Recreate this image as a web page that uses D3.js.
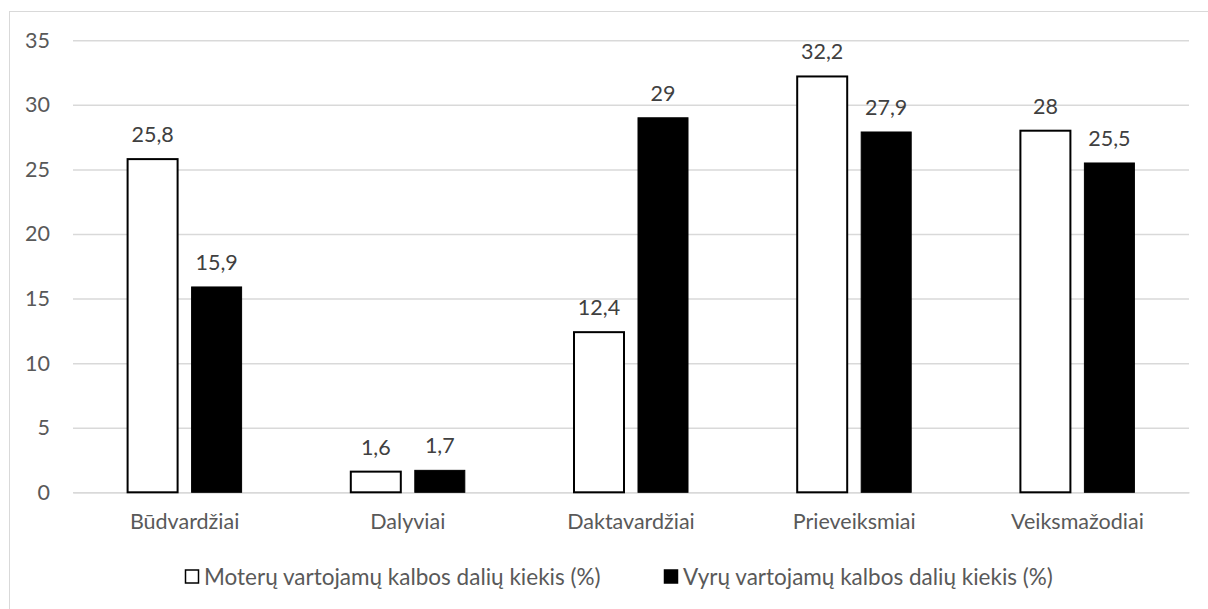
<!DOCTYPE html>
<html>
<head>
<meta charset="utf-8">
<script src="https://cdn.jsdelivr.net/npm/d3@7"></script>
<style>
  html, body { margin: 0; padding: 0; background: #fff; }
  svg { display: block; }
  text { font-family: Lato, "Noto Sans", sans-serif; }
</style>
</head>
<body>
<svg id="chart" width="1208" height="609"></svg>
<script>
// Part-of-speech usage shares by gender (%)
const categories = ["Būdvardžiai", "Dalyviai", "Daktavardžiai", "Prieveiksmiai", "Veiksmažodiai"];
const seriesNames = ["Moterų vartojamų kalbos dalių kiekis (%)", "Vyrų vartojamų kalbos dalių kiekis (%)"];
const womenValues = [25.8, 1.6, 12.4, 32.2, 28];
const menValues = [15.9, 1.7, 29, 27.9, 25.5];
const yTicks = [0, 5, 10, 15, 20, 25, 30, 35];

const W = 1208, H = 609;
const margin = { left: 73, right: 19, top: 40.3, bottom: 116.7 };
const svg = d3.select("#chart");

// outer chart-area frame
svg.append("rect")
  .attr("x", 9.5).attr("y", 11.5)
  .attr("width", W + 20).attr("height", H + 20)
  .attr("fill", "none").attr("stroke", "#d9d9d9").attr("stroke-width", 1);

const x = d3.scaleBand()
  .domain(categories)
  .range([margin.left, W - margin.right])
  .paddingInner(0).paddingOuter(0);

const y = d3.scaleLinear()
  .domain([0, 35])
  .range([H - margin.bottom, margin.top]);

const barW = 50, barGap = 14;
const sub = d3.scaleOrdinal()
  .domain([0, 1])
  .range([-(barGap / 2 + barW), barGap / 2]);

// gridlines
const yAxis = d3.axisLeft(y).tickValues(yTicks).tickSize(-(W - margin.left - margin.right)).tickPadding(23).tickFormat(d3.format("d"));
const gy = svg.append("g").attr("transform", `translate(${margin.left},0)`).call(yAxis);
gy.select(".domain").remove();
gy.selectAll(".tick line").attr("stroke", "#d9d9d9").attr("stroke-width", 1.5);
gy.selectAll(".tick text")
  .attr("fill", "#595959")
  .style("font-size", "21.5px");

// x axis labels
const xAxis = d3.axisBottom(x).tickSize(0).tickPadding(21);
const gx = svg.append("g").attr("transform", `translate(0,${y(0)})`).call(xAxis);
gx.select(".domain").attr("stroke", "#d9d9d9").attr("stroke-width", 1.5);
gx.selectAll(".tick text").attr("fill", "#595959").style("font-size", "21.5px");

const series = [
  { name: seriesNames[0], values: womenValues, fill: "#ffffff" },
  { name: seriesNames[1], values: menValues, fill: "#000000" }
];

series.forEach((s, si) => {
  const g = svg.append("g");
  g.selectAll("rect")
    .data(categories.map((c, i) => ({ c, v: s.values[i] })))
    .join("rect")
    .attr("x", d => x(d.c) + x.bandwidth() / 2 + sub(si))
    .attr("y", d => y(d.v))
    .attr("width", barW)
    .attr("height", d => y(0) - y(d.v))
    .attr("fill", s.fill)
    .attr("stroke", "#000")
    .attr("stroke-width", si === 0 ? 2 : 1);

  g.selectAll("text")
    .data(categories.map((c, i) => ({ c, v: s.values[i] })))
    .join("text")
    .attr("x", d => x(d.c) + x.bandwidth() / 2 + sub(si) + barW / 2)
    .attr("y", d => y(d.v) - 17)
    .attr("text-anchor", "middle")
    .attr("fill", "#404040")
    .style("font-size", "21.5px")
    .text(d => String(d.v).replace(".", ","));
});

// legend
const legend = svg.append("g");
const legendItems = [
  { x: 185, fill: "#ffffff" },
  { x: 664, fill: "#000000" }
];
legendItems.forEach((it, i) => {
  legend.append("rect")
    .attr("x", it.x + 0.5).attr("y", 570)
    .attr("width", 13).attr("height", 13)
    .attr("fill", it.fill).attr("stroke", "#000").attr("stroke-width", 1.5);
  legend.append("text")
    .attr("x", it.x + 19).attr("y", 585)
    .attr("fill", "#595959")
    .style("font-size", "22.5px")
    .text(seriesNames[i]);
});
</script>
</body>
</html>
